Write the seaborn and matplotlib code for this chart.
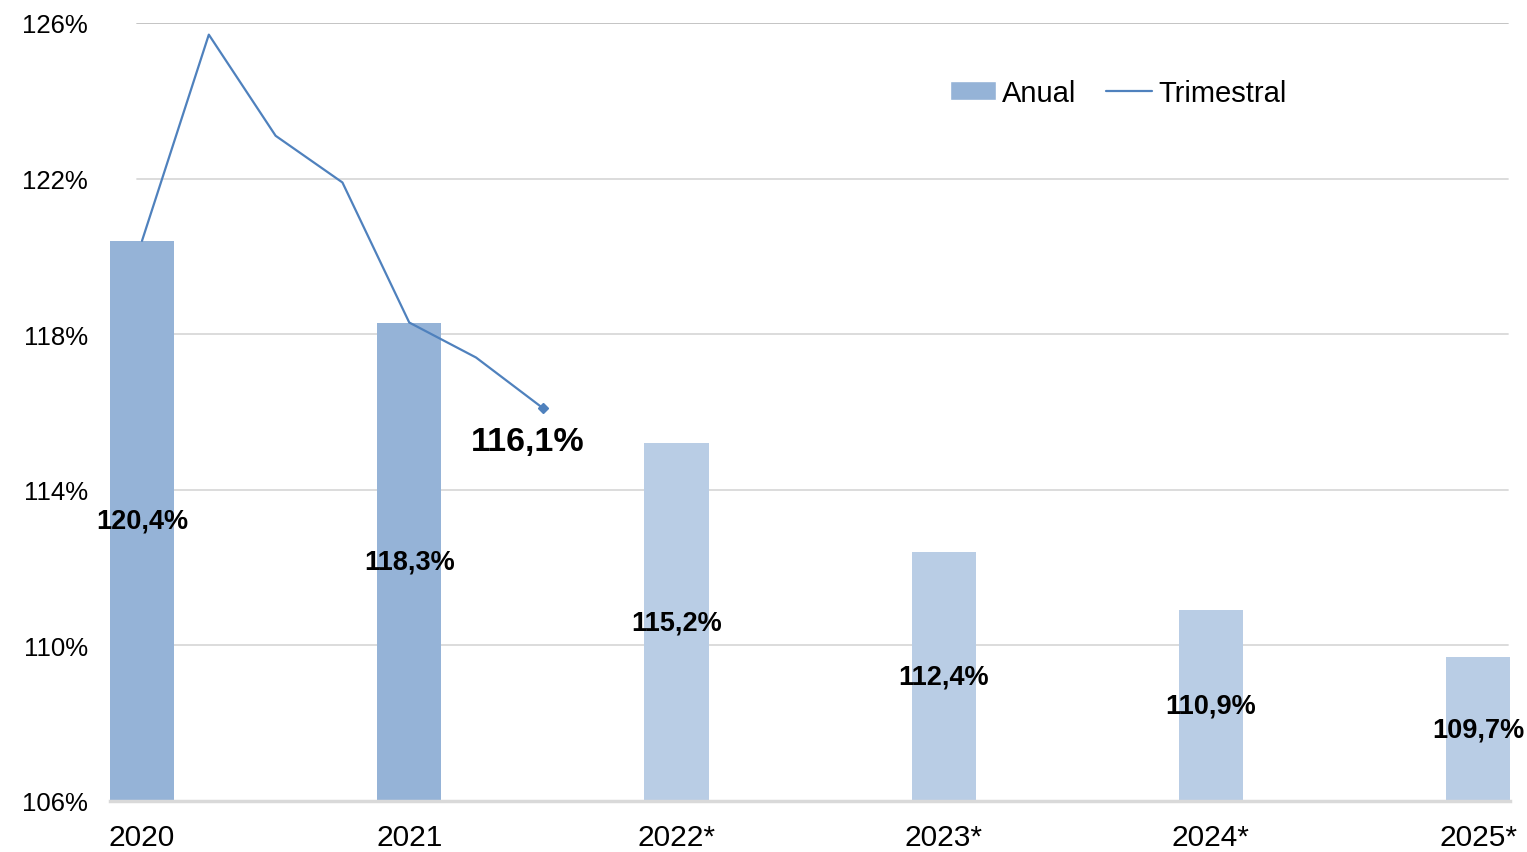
import numpy as np
import pandas as pd
import seaborn as sns
import matplotlib.pyplot as plt
from matplotlib.patches import Patch
from matplotlib.lines import Line2D

years = ["2020", "2021", "2022*", "2023*", "2024*", "2025*"]
annual = [120.4, 118.3, 115.2, 112.4, 110.9, 109.7]
bar_colors = ["#95B3D7", "#95B3D7", "#B9CDE5", "#B9CDE5", "#B9CDE5", "#B9CDE5"]

# quarterly series, starts at the 2020 bar, one point per quarter
quarterly = [120.4, 125.7, 123.1, 121.9, 118.3, 117.4, 116.1]
last_label = "116,1%"

yticks = [106, 110, 114, 118, 122, 126]

sns.set_style("white")
plt.rcParams["font.family"] = ["Liberation Sans", "DejaVu Sans"]
plt.rcParams["text.color"] = "black"
plt.rcParams["xtick.color"] = "black"
plt.rcParams["ytick.color"] = "black"

fig = plt.figure(figsize=(15.27, 8.53), dpi=100)
ax = fig.add_axes([0.072, 0.0598, 0.917, 0.9121])

df = pd.DataFrame({"year": years, "val": annual})
sns.barplot(data=df, x="year", y="val", hue="year", palette=bar_colors,
            width=0.24, saturation=1, linewidth=0, legend=False, ax=ax, zorder=2)

qx = np.arange(len(quarterly)) / 4
sns.lineplot(x=qx, y=quarterly, color="#4F81BD", linewidth=1.6, ax=ax, zorder=3)
ax.plot(qx[-1], quarterly[-1], marker="D", markersize=5, color="#4F81BD", zorder=4)
ax.text(qx[-1] - 0.057, quarterly[-1] - 0.85, last_label, fontsize=24.5,
        fontweight="bold", ha="center", va="center")

for i, v in enumerate(annual):
    ax.text(i, (yticks[0] + v) / 2, f"{v:.1f}%".replace(".", ","), fontsize=19.5,
            fontweight="bold", ha="center", va="center", zorder=5)

ax.set_ylim(yticks[0], yticks[-1])
ax.set_xlim(-0.12, len(years) - 1 + 0.12)
ax.set_yticks(yticks)
ax.set_yticklabels([f"{t}%" for t in yticks], fontsize=18.5)
ax.tick_params(axis="y", length=0, pad=16)
ax.tick_params(axis="x", length=0, pad=16, labelsize=21.5)
ax.set_xlabel("")
ax.set_ylabel("")

for t in yticks[1:]:
    ax.axhline(t, xmin=0.019, xmax=0.9985,
               color="#BFBFBF" if t == yticks[-1] else "#D9D9D9",
               linewidth=1.3, zorder=0)

for s in ["top", "left", "right"]:
    ax.spines[s].set_visible(False)
ax.spines["bottom"].set_color("#D9D9D9")
ax.spines["bottom"].set_linewidth(2.5)

handles = [Patch(facecolor="#95B3D7", label="Anual"),
           Line2D([0], [0], color="#4F81BD", linewidth=1.6, label="Trimestral")]
ax.legend(handles=handles, loc="center", bbox_to_anchor=(0.72, 0.91), ncol=2,
          frameon=False, fontsize=21, handlelength=1.6, handleheight=0.6,
          handletextpad=0.2, columnspacing=1.0)

fig.savefig("out.png", dpi=100)
